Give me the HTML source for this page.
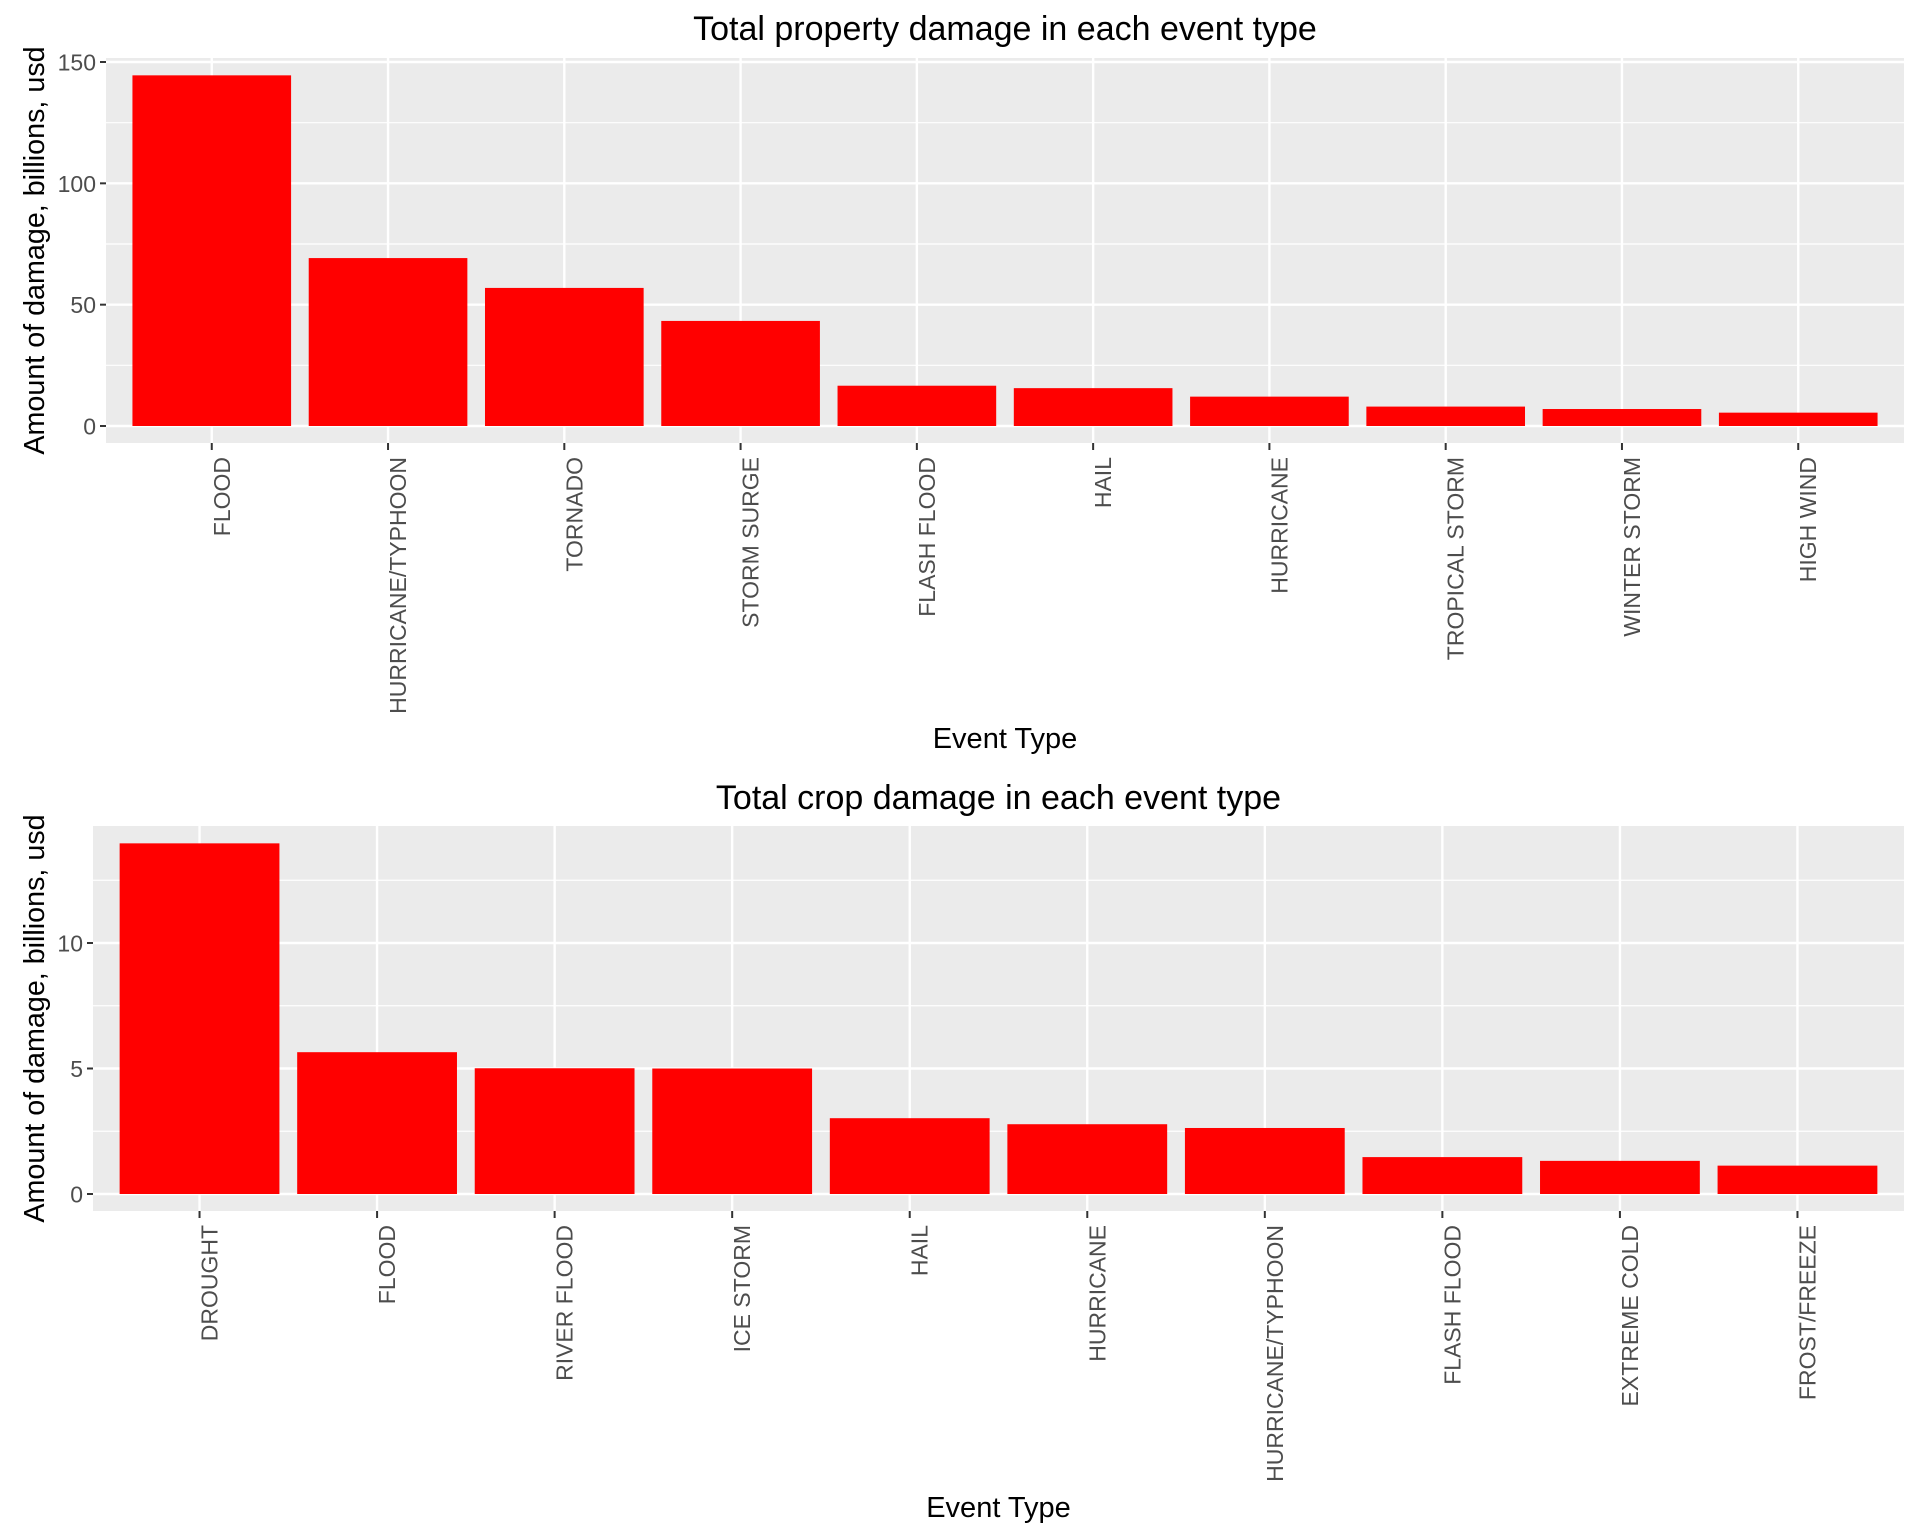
<!DOCTYPE html>
<html><head><meta charset="utf-8"><style>
html,body{margin:0;padding:0;background:#fff;}
svg{display:block;font-family:"Liberation Sans",Arial,sans-serif;}
</style></head><body>
<svg id="chart" width="1920" height="1536" xmlns="http://www.w3.org/2000/svg"></svg>
<script>
const propCategories = ["FLOOD","HURRICANE/TYPHOON","TORNADO","STORM SURGE","FLASH FLOOD","HAIL","HURRICANE","TROPICAL STORM","WINTER STORM","HIGH WIND"];
const propValues = [144.5, 69.2, 56.9, 43.3, 16.6, 15.6, 12.1, 8.0, 7.0, 5.5];
const propTicks = [0, 50, 100, 150];
const cropCategories = ["DROUGHT","FLOOD","RIVER FLOOD","ICE STORM","HAIL","HURRICANE","HURRICANE/TYPHOON","FLASH FLOOD","EXTREME COLD","FROST/FREEZE"];
const cropValues = [13.97, 5.65, 5.01, 5.0, 3.02, 2.78, 2.63, 1.47, 1.32, 1.13];
const cropTicks = [0, 5, 10];

const NS = "http://www.w3.org/2000/svg";
const svg = document.getElementById("chart");
function mk(tag, attrs, parent) {
  const e = document.createElementNS(NS, tag);
  for (const k in attrs) e.setAttribute(k, attrs[k]);
  (parent || svg).appendChild(e);
  return e;
}

function panel(cfg) {
  const g = mk("g", {});
  
  
  const {L, R, T, B, y0, yUnit, cats, vals, ticks, minorStep, yMaxMinor} = cfg;
  const n = cats.length;
  const band = (R - L) / (n + 0.2);
  const xc = i => L + band * (0.6 + i);
  const ys = v => y0 - v * yUnit;
  const bg = mk("rect", {x: L, y: T, width: R - L, height: B - T, fill: "#ebebeb"}, g);
  
  
  for (let v = minorStep / 2; v <= yMaxMinor; v += minorStep) {
    const y = ys(v);
    if (y < T || y > B) continue;
    const l = mk("line", {x1: L, x2: R, y1: y, y2: y, stroke: "#fff", "stroke-width": 1.2}, g);
    
    
  }
  ticks.forEach(v => {
    const y = ys(v);
    const l = mk("line", {x1: L, x2: R, y1: y, y2: y, stroke: "#fff", "stroke-width": 2.4}, g);
    
    
    const tk = mk("line", {x1: L - 6, x2: L, y1: y, y2: y, stroke: "#333", "stroke-width": 2}, g);
    
    
    const t = mk("text", {x: L - 10, y: y + 8.5, "text-anchor": "end", "font-size": 23, fill: "#4d4d4d"}, g);
    t.textContent = v;
    
    
  });
  cats.forEach((c, i) => {
    const x = xc(i);
    const l = mk("line", {x1: x, x2: x, y1: T, y2: B, stroke: "#fff", "stroke-width": 2.4}, g);
    
    
  });
  cats.forEach((c, i) => {
    const x = xc(i);
    const w = band * 0.9;
    const r = mk("rect", {x: x - w / 2, y: ys(vals[i]), width: w, height: vals[i] * yUnit, fill: "#ff0000"}, g);
    
    
    const tk = mk("line", {x1: x, x2: x, y1: B, y2: B + 7, stroke: "#333", "stroke-width": 2}, g);
    
    
    const t = mk("text", {x: 0, y: 0, "text-anchor": "end", "font-size": 23, fill: "#4d4d4d",
      transform: `translate(${x + 18},${B + 14}) rotate(-90)`}, g);
    t.textContent = c;
    
    
  });
  const title = mk("text", {x: (L + R) / 2, y: cfg.titleY, "text-anchor": "middle", "font-size": 34, fill: "#000"}, g);
  title.textContent = cfg.title;
  
  
  const yt = mk("text", {x: 0, y: 0, "text-anchor": "middle", "font-size": 28.7, fill: "#000",
    transform: `translate(44,${(T + B) / 2}) rotate(-90)`}, g);
  yt.textContent = "Amount of damage, billions, usd";
  
  
  const xt = mk("text", {x: (L + R) / 2, y: cfg.xTitleY, "text-anchor": "middle", "font-size": 29, fill: "#000"}, g);
  xt.textContent = "Event Type";
  
  
}

panel({name: "property-damage-panel", L: 106, R: 1904, T: 58, B: 443, y0: 426, yUnit: (426 - 62) / 150,
  cats: propCategories, vals: propValues, ticks: propTicks, minorStep: 50, yMaxMinor: 175,
  title: "Total property damage in each event type", titleY: 40, xTitleY: 748});
panel({name: "crop-damage-panel", L: 93, R: 1904, T: 826, B: 1211, y0: 1194, yUnit: (1194 - 943) / 10,
  cats: cropCategories, vals: cropValues, ticks: cropTicks, minorStep: 5, yMaxMinor: 20,
  title: "Total crop damage in each event type", titleY: 809, xTitleY: 1517});
</script>
</body></html>
